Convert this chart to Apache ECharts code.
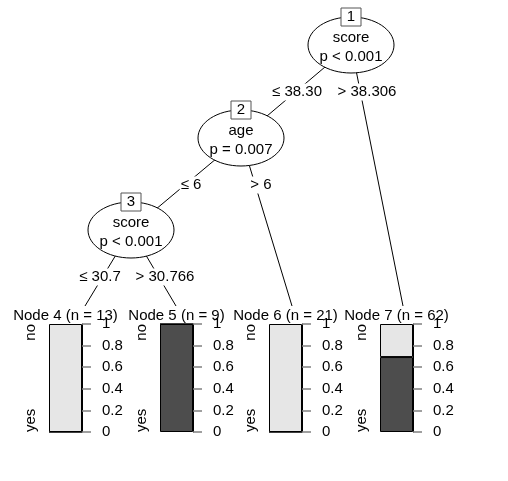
<!DOCTYPE html>
<html>
<head>
<meta charset="utf-8">
<script src="https://cdn.jsdelivr.net/npm/echarts@6/dist/echarts.min.js"></script>
<style>
  html, body { margin: 0; padding: 0; background: #fff; }
  #main { width: 508px; height: 481px; }
</style>
</head>
<body>
<div id="main"></div>
<script>
// inner (split) nodes
const innerIds = [1, 2, 3];
const innerVars = ['score', 'age', 'score'];
const innerPvals = ['p < 0.001', 'p = 0.007', 'p < 0.001'];

// edges: parent -> child, with split labels
const edgeFrom = [1, 1, 2, 2, 3, 3];
const edgeTo = [2, 7, 3, 6, 4, 5];
const edgeLabels = ['\u2264 38.30', '> 38.306', '\u2264 6', '> 6', '\u2264 30.7', '> 30.766'];

// terminal nodes
const termIds = [4, 5, 6, 7];
const termN = [13, 9, 21, 62];
const classLevels = ['no', 'yes'];
const propYes = [0, 1, 0, 0.694];
const propNo = [1, 0, 1, 0.306];

// layout (pixels) kept apart from the data
const innerPos = { 1: [351, 45], 2: [241, 138], 3: [131, 230] };
const termTop = { 4: [85, 306], 5: [176, 306], 6: [292, 306], 7: [403, 306] };
const edgeLabelPos = [[297, 92], [367, 92], [191, 185], [261, 185], [100, 277], [165, 277]];
const barLeft = [49, 160, 269, 380];
const barTop = 324, barW = 33, barH = 108;

const FONT = '15px "Liberation Sans", Arial, sans-serif';
const DARK = '#4d4d4d', LIGHT = '#e6e6e6';

let myChart = echarts.init(document.getElementById('main'));

function posOf(id) {
  return innerPos[id] || termTop[id];
}

let graphics = [];
// edges
edgeFrom.forEach((p, i) => {
  let a = posOf(p), b = posOf(edgeTo[i]);
  graphics.push({
    type: 'line', z: 1,
    shape: { x1: a[0], y1: a[1], x2: b[0], y2: b[1] },
    style: { stroke: '#000', lineWidth: 1 }
  });
  graphics.push({
    type: 'text', z: 2,
    x: edgeLabelPos[i][0], y: edgeLabelPos[i][1],
    style: {
      text: edgeLabels[i], font: FONT, fill: '#000',
      align: 'center', verticalAlign: 'middle',
      backgroundColor: '#fff', padding: [1, 1]
    }
  });
});
// inner nodes
innerIds.forEach((id, i) => {
  let c = innerPos[id];
  graphics.push({
    type: 'ellipse', z: 3,
    shape: { cx: c[0], cy: c[1], rx: 43, ry: 28 },
    style: { fill: '#fff', stroke: '#000', lineWidth: 1 }
  });
  graphics.push({
    type: 'rect', z: 4,
    shape: { x: c[0] - 10, y: c[1] - 37, width: 20, height: 18 },
    style: { fill: '#fff', stroke: '#555', lineWidth: 1 }
  });
  graphics.push({
    type: 'text', z: 5, x: c[0], y: c[1] - 28,
    style: { text: String(id), font: FONT, fill: '#000', align: 'center', verticalAlign: 'middle' }
  });
  graphics.push({
    type: 'text', z: 5, x: c[0], y: c[1] - 7,
    style: { text: innerVars[i], font: FONT, fill: '#000', align: 'center', verticalAlign: 'middle' }
  });
  graphics.push({
    type: 'text', z: 5, x: c[0], y: c[1] + 12,
    style: { text: innerPvals[i], font: FONT, fill: '#000', align: 'center', verticalAlign: 'middle' }
  });
});

// terminal panels
let grids = [], xAxes = [], yAxes = [], series = [];
termIds.forEach((id, i) => {
  grids.push({ left: barLeft[i], top: barTop, width: barW, height: barH });
  xAxes.push({ type: 'category', gridIndex: i, data: [''], show: false });
  yAxes.push({
    type: 'value', gridIndex: i, position: 'right', min: 0, max: 1, interval: 0.2,
    splitLine: { show: false },
    axisLine: { show: true, lineStyle: { color: '#000', width: 1 } },
    axisTick: { show: true, length: 9, lineStyle: { color: '#808080', width: 1.5 } },
    axisLabel: { margin: 20, color: '#000', fontSize: 15, fontFamily: '"Liberation Sans", Arial, sans-serif' }
  });
  series.push({
    type: 'bar', xAxisIndex: i, yAxisIndex: i, stack: 't' + i,
    barWidth: '100%', data: [propYes[i]], silent: true,
    itemStyle: { color: DARK, borderColor: '#000', borderWidth: 1 }
  });
  series.push({
    type: 'bar', xAxisIndex: i, yAxisIndex: i, stack: 't' + i,
    barWidth: '100%', data: [propNo[i]], silent: true,
    itemStyle: { color: LIGHT, borderColor: '#000', borderWidth: 1 }
  });
  let cx = barLeft[i] + barW / 2;
  graphics.push({
    type: 'text', z: 10, x: cx, y: 316,
    style: { text: 'Node ' + id + ' (n = ' + termN[i] + ')', font: FONT, fill: '#000', align: 'center', verticalAlign: 'middle' }
  });
  graphics.push({
    type: 'text', z: 10, x: barLeft[i] - 18, y: barTop, rotation: Math.PI / 2,
    style: { text: classLevels[0], font: FONT, fill: '#000', align: 'right', verticalAlign: 'middle' }
  });
  graphics.push({
    type: 'text', z: 10, x: barLeft[i] - 18, y: barTop + barH, rotation: Math.PI / 2,
    style: { text: classLevels[1], font: FONT, fill: '#000', align: 'left', verticalAlign: 'middle' }
  });
});

let options = {
  backgroundColor: '#fff',
  animation: false,
  grid: grids,
  xAxis: xAxes,
  yAxis: yAxes,
  series: series,
  graphic: { elements: graphics }
};
myChart.setOption(options);
</script>
</body>
</html>
